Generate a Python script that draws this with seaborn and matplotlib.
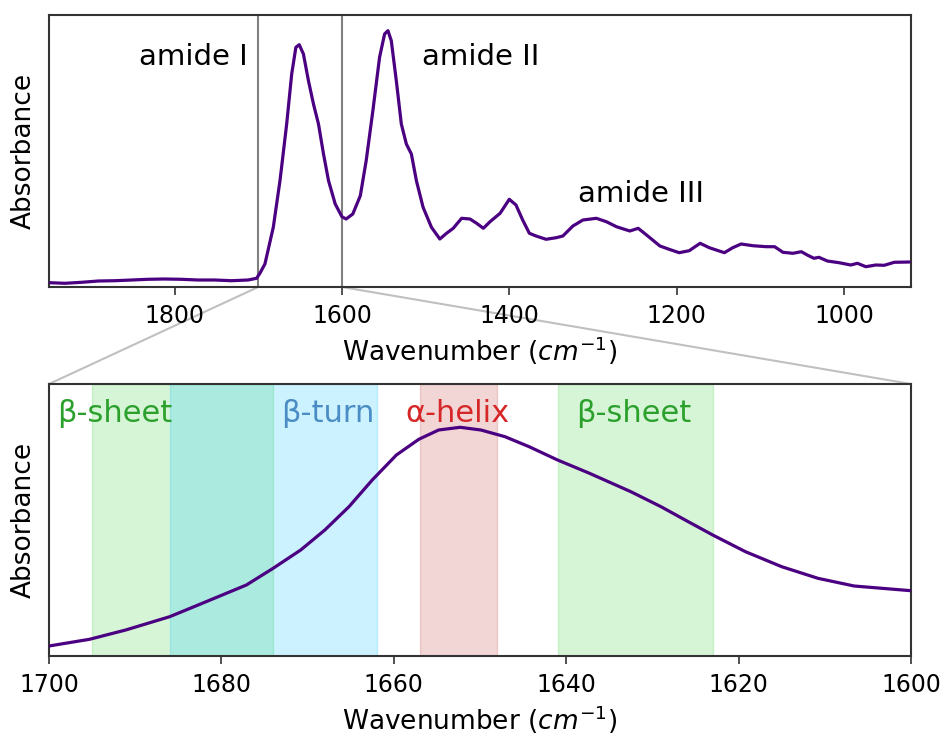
import matplotlib
matplotlib.use("Agg")
import matplotlib.pyplot as plt
import seaborn as sns
import pandas as pd
from matplotlib.patches import ConnectionPatch

# ---------------- data ----------------
top_wavenumber = [1949, 1931, 1911, 1891, 1871, 1851, 1832, 1812, 1792, 1772,
                  1752, 1732, 1712, 1702, 1698, 1692, 1682, 1674, 1666, 1660,
                  1655, 1651, 1646, 1640, 1634, 1628, 1622, 1616, 1608, 1600,
                  1595, 1587, 1578, 1571, 1563, 1555, 1549, 1545, 1541, 1535,
                  1529, 1523, 1517, 1511, 1503, 1493, 1483, 1475, 1467, 1457,
                  1447, 1439, 1431, 1423, 1411, 1400, 1392, 1384, 1376, 1368,
                  1356, 1344, 1336, 1324, 1312, 1296, 1284, 1272, 1256, 1246,
                  1236, 1220, 1209, 1197, 1185, 1172, 1161, 1143, 1133, 1123,
                  1109, 1093, 1083, 1073, 1061, 1051, 1044, 1036, 1030, 1020,
                  1006, 992, 984, 974, 962, 952, 940, 922]
top_absorbance = [0.043, 0.037, 0.047, 0.060, 0.063, 0.070, 0.077, 0.080, 0.077, 0.070,
                  0.070, 0.063, 0.070, 0.087, 0.137, 0.23, 0.597, 1.063, 1.63, 2.13,
                  2.397, 2.423, 2.33, 2.063, 1.83, 1.63, 1.33, 1.063, 0.83, 0.703,
                  0.68, 0.73, 0.913, 1.263, 1.763, 2.297, 2.53, 2.563, 2.463, 2.063,
                  1.63, 1.43, 1.33, 1.063, 0.797, 0.597, 0.48, 0.537, 0.587, 0.687,
                  0.68, 0.637, 0.587, 0.653, 0.737, 0.877, 0.82, 0.67, 0.537, 0.51,
                  0.477, 0.493, 0.51, 0.61, 0.67, 0.687, 0.653, 0.603, 0.56, 0.587,
                  0.52, 0.41, 0.377, 0.343, 0.363, 0.437, 0.393, 0.343, 0.393, 0.43,
                  0.413, 0.403, 0.403, 0.347, 0.337, 0.353, 0.32, 0.287, 0.297, 0.26,
                  0.243, 0.22, 0.237, 0.203, 0.22, 0.217, 0.247, 0.25]

zoom_wavenumber = [1700, 1695.3, 1691.1, 1686, 1682.7, 1679.9, 1677.1, 1674, 1670.8, 1668,
                   1665.2, 1662.5, 1659.7, 1657.1, 1654.8, 1652.3, 1649.9, 1647.1, 1644.3, 1641,
                   1637.3, 1632.5, 1629, 1626.2, 1623, 1619.2, 1615, 1610.8, 1606.6, 1600]
zoom_absorbance = [0.10, 0.167, 0.26, 0.393, 0.51, 0.61, 0.71, 0.877, 1.06, 1.26,
                   1.493, 1.76, 2.01, 2.167, 2.26, 2.287, 2.26, 2.193, 2.093, 1.96,
                   1.827, 1.643, 1.493, 1.36, 1.21, 1.043, 0.893, 0.777, 0.70, 0.653]

band_names = ["β-sheet", "β-turn", "α-helix", "β-sheet"]
band_start = [1695, 1686, 1657, 1641]
band_end = [1674, 1662, 1648, 1623]

peak_names = ["amide I", "amide II", "amide III"]

top_ticks = [1800, 1600, 1400, 1200, 1000]
zoom_ticks = [1700, 1680, 1660, 1640, 1620, 1600]
zoom_edges = [1700, 1600]

# ---------------- style ----------------
sns.set_style("ticks")
plt.rcParams["font.family"] = ["DejaVu Sans"]
plt.rcParams["mathtext.fontset"] = "dejavusans"
plt.rcParams["text.color"] = "black"
plt.rcParams["axes.labelcolor"] = "black"
plt.rcParams["xtick.color"] = "black"
plt.rcParams["xtick.labelcolor"] = "black"

line_color = "indigo"
band_face = ["limegreen", "deepskyblue", "indianred", "limegreen"]
band_alpha = [0.2, 0.2, 0.25, 0.2]
band_text = ["#2ca02c", "#4a8cc4", "#d62728", "#2ca02c"]
band_label_x = [1692.4, 1667.7, 1652.6, 1632.2]
band_label_y = 2.34
peak_label_x = [1778, 1434, 1243]
peak_label_y = [2.22, 2.22, 0.853]

W, H = 944, 740
fig = plt.figure(figsize=(W / 100, H / 100), dpi=100)
ax1 = fig.add_axes([49 / W, 1 - 287 / H, 862 / W, 272 / H])
ax2 = fig.add_axes([49 / W, 1 - 656 / H, 862 / W, 272 / H])

df_top = pd.DataFrame({"wn": top_wavenumber, "A": top_absorbance})
df_zoom = pd.DataFrame({"wn": zoom_wavenumber, "A": zoom_absorbance})

# top panel
sns.lineplot(data=df_top, x="wn", y="A", ax=ax1, color=line_color, lw=2.3, zorder=3)
for e in zoom_edges:
    ax1.axvline(e, color="gray", lw=1.5, zorder=2)
for name, x, y in zip(peak_names, peak_label_x, peak_label_y):
    ax1.text(x, y, name, fontsize=21, ha="center", va="baseline", color="black")
ax1.set_xlim(1950, 920)
ax1.set_ylim(0, 2.72)
ax1.set_xticks(top_ticks)

# bottom panel
for s, e, c, a in zip(band_start, band_end, band_face, band_alpha):
    ax2.axvspan(s, e, color=c, alpha=a, zorder=1)
sns.lineplot(data=df_zoom, x="wn", y="A", ax=ax2, color=line_color, lw=2.3, zorder=3)
for name, x, c in zip(band_names, band_label_x, band_text):
    ax2.text(x, band_label_y, name, fontsize=22, ha="center", va="baseline", color=c)
ax2.set_xlim(1700, 1600)
ax2.set_ylim(0, 2.72)
ax2.set_xticks(zoom_ticks)

for ax in (ax1, ax2):
    ax.set_yticks([])
    ax.set_xlabel("Wavenumber ($cm^{-1}$)", fontsize=19, labelpad=5)
    ax.set_ylabel("Absorbance", fontsize=19, labelpad=9)
    ax.tick_params(axis="x", labelsize=17, direction="out", length=6, width=1.2,
                   color="0.2", labelcolor="black", pad=6)
    for sp in ax.spines.values():
        sp.set_visible(True)
        sp.set_color("0.2")
        sp.set_linewidth(1.5)

# connection lines between panels
for e, fx in zip(zoom_edges, [0, 1]):
    con = ConnectionPatch(xyA=(e, 0), coordsA=ax1.transData,
                          xyB=(fx, 1), coordsB=ax2.transAxes,
                          color="#c0c0c0", lw=1.5, zorder=0)
    fig.add_artist(con)

fig.savefig("out.png", dpi=100)
